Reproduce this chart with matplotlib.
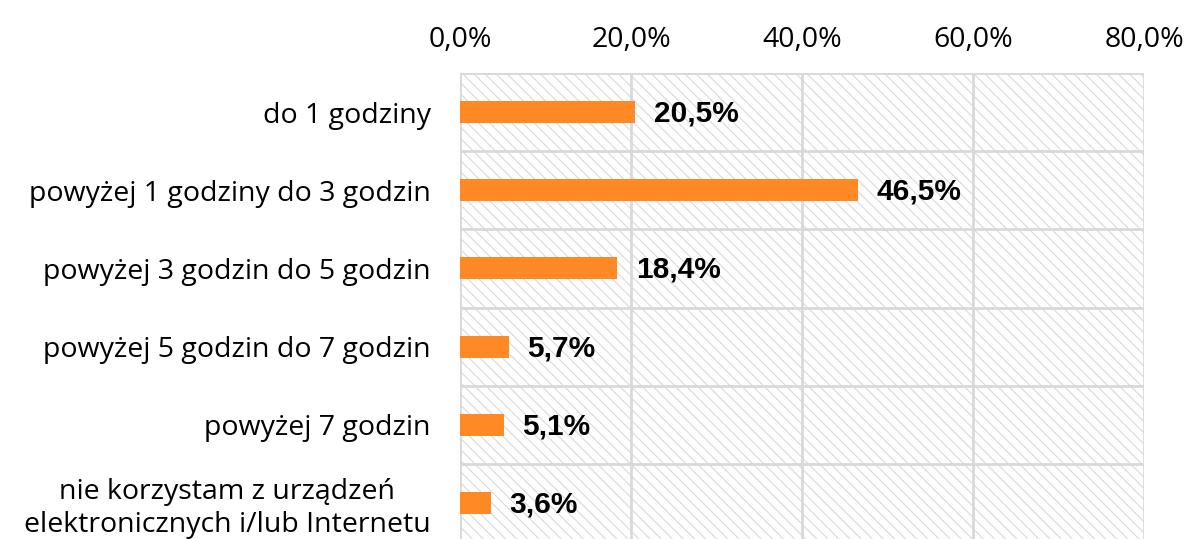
import matplotlib
matplotlib.use("Agg")
import matplotlib.pyplot as plt
from matplotlib.patches import Rectangle
from matplotlib.ticker import FuncFormatter

categories = [
    "do 1 godziny",
    "powyżej 1 godziny do 3 godzin",
    "powyżej 3 godzin do 5 godzin",
    "powyżej 5 godzin do 7 godzin",
    "powyżej 7 godzin",
    "nie korzystam z urządzeń\nelektronicznych i/lub Internetu",
]
values = [20.5, 46.5, 18.4, 5.7, 5.1, 3.6]
x_ticks = [0, 20, 40, 60, 80]

BAR = "#ff8a25"
GRID = "#d9d9d9"

plt.rcParams["hatch.color"] = "#d0d0d0"
plt.rcParams["hatch.linewidth"] = 0.8

fig = plt.figure(figsize=(11.92, 5.39), dpi=100)
ax = fig.add_axes([460 / 1192, -3 / 539, 684 / 1192, 469 / 539])

# hatched background
ax.add_patch(Rectangle((0, 0), 1, 1, transform=ax.transAxes, facecolor="white",
                       edgecolor=GRID, hatch="\\\\\\", linewidth=0, zorder=0))

y = list(range(len(categories)))
ax.barh(y, values, height=0.28, color=BAR, zorder=3)
for yi, v in zip(y, values):
    ax.text(v + 2.2, yi + 0.02, f"{v:.1f}%".replace(".", ","), va="center", ha="left",
            fontsize=21.5, fontweight="bold", family="Liberation Sans", zorder=4)

ax.set_xlim(0, 80)
ax.set_ylim(len(categories) - 0.5, -0.5)
ax.set_xticks(x_ticks)
ax.xaxis.set_major_formatter(FuncFormatter(lambda v, _: f"{v:.1f}%".replace(".", ",")))
ax.xaxis.tick_top()
ax.set_yticks(y)
ax.set_yticklabels(categories)
for lbl in ax.get_yticklabels():
    lbl.set_multialignment("center")
    lbl.set_linespacing(1.2)
ax.tick_params(axis="both", length=0, labelsize=20.5)
ax.tick_params(axis="x", pad=14)
ax.tick_params(axis="y", pad=21)
for lbl in ax.get_xticklabels() + ax.get_yticklabels():
    lbl.set_family("Open Sans")

# grid lines
for xv in x_ticks:
    ax.axvline(xv, color=GRID, lw=2, zorder=1)
for b in range(len(categories) + 1):
    ax.axhline(b - 0.5, color=GRID, lw=2, zorder=1, xmin=-0.04 if b < len(categories) else 0)
for s in ax.spines.values():
    s.set_visible(False)

fig.savefig("out.png", dpi=100)
